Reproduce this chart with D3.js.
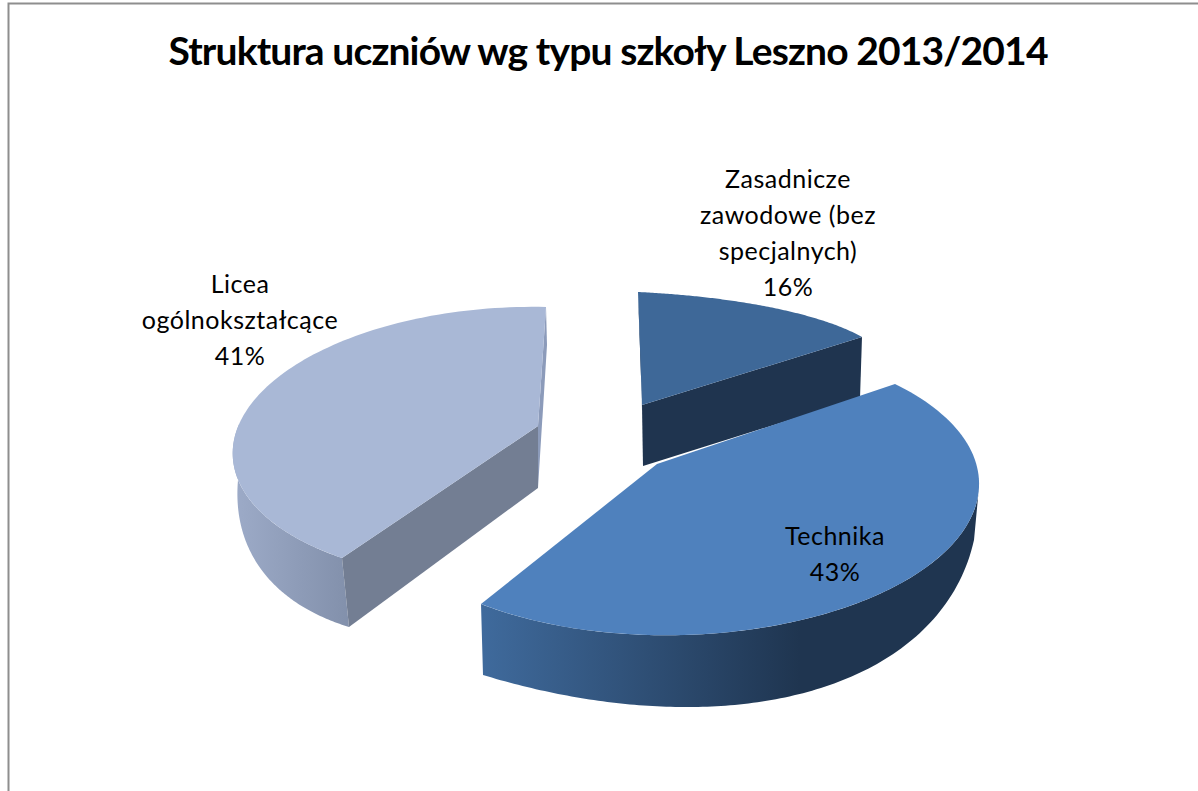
<!DOCTYPE html>
<html lang="pl">
<head>
<meta charset="utf-8">
<script src="https://cdn.jsdelivr.net/npm/d3@7/dist/d3.min.js"></script>
<style>
html,body{margin:0;padding:0;background:#fff;overflow:hidden}
text{font-family:Lato,"Noto Sans",sans-serif;fill:#000}
</style>
</head>
<body>
<svg id="chart" width="1198" height="791"></svg>
<script>
// ---- data ----
const categories = ["Zasadnicze zawodowe (bez specjalnych)", "Technika", "Licea ogólnokształcące"];
const percents = [16, 43, 41];
const titleText = "Struktura uczniów wg typu szkoły Leszno 2013/2014";
const labelLines = [
  ["Zasadnicze", "zawodowe (bez", "specjalnych)"],
  ["Technika"],
  ["Licea", "ogólnokształcące"]
];

// ---- layout: how each exploded slice's disc lies on the page (a perspective plane).
// "at" is a fraction of the slice's own sweep; the sweep itself comes from d3.pie.
const slicePlanes = [
  { top: [[0,638,292],[.243,693,296],[.694,800,314],[1,862,337]],
    bottom: [[0,641,355],[.243,695,358],[.694,800,376],[1,860,398]],
    apex: [642,405], apexLow: [643,466], wall: null, cutStart: true, cutEnd: true,
    topFill: "#3e6898", cutFill: "#1f344f", startCutFill: "#1f344f" },
  { top: [[0,895,384],[.242,979,487],[.726,683,635],[1,481,604]],
    bottom: [[.242,974,540],[.403,903,647],[.726,677,707],[1,483,675]],
    apex: [657,464], apexLow: [657,530], wall: [.242,1], cutStart: false, cutEnd: false,
    topFill: "#4f81bd", wallGradient: [[483,"#3f6a9c"],[800,"#1f3550"],[979,"#1f3550"]] },
  { top: [[0,342,558],[.424,233,447],[.763,353,337],[1,546,307]],
    bottom: [[0,349,627],[.153,280,590],[.336,243,533],[.49,238,480]],
    bottomEnd: [547,345],
    apex: [538,426], apexLow: [538,488], wall: [0,.49], cutStart: true, cutEnd: true,
    topFill: "#a9b8d6", cutFill: "#737e93", startCutFill: "#8c9bba",
    wallGradient: [[233,"#9dabc8"],[349,"#8290ab"]] }
];
const labelAnchors = [[788,188],[835,545],[240,293]];
const lineHeight = 36;

// ---- helpers ----
function solve(A, b) {
  const n = b.length, M = A.map((r, i) => [...r, b[i]]);
  for (let c = 0; c < n; c++) {
    let p = c;
    for (let r = c + 1; r < n; r++) if (Math.abs(M[r][c]) > Math.abs(M[p][c])) p = r;
    [M[c], M[p]] = [M[p], M[c]];
    for (let r = 0; r < n; r++) {
      if (r === c) continue;
      const f = M[r][c] / M[c][c];
      for (let k = c; k <= n; k++) M[r][k] -= f * M[c][k];
    }
  }
  return M.map((r, i) => r[n] / r[i]);
}
function fitPlane(controls, angleAt) {
  const A = [], b = [];
  controls.forEach(([at, x, y]) => {
    const a = angleAt(at), X = Math.sin(a), Y = Math.cos(a);
    A.push([X, Y, 1, 0, 0, 0, -x * X, -x * Y]); b.push(x);
    A.push([0, 0, 0, X, Y, 1, -y * X, -y * Y]); b.push(y);
  });
  const h = solve(A, b);
  return at => {
    const a = angleAt(at), X = Math.sin(a), Y = Math.cos(a);
    const w = h[6] * X + h[7] * Y + 1;
    return [(h[0] * X + h[1] * Y + h[2]) / w, (h[3] * X + h[4] * Y + h[5]) / w];
  };
}

// ---- drawing ----
const svg = d3.select("#chart");
const defs = svg.append("defs");
const line = d3.line();

// chart frame (open at right and bottom, as cropped)
svg.append("path")
  .attr("d", line([[8.5, 791], [8.5, 3.5], [1198, 3.5]]))
  .attr("fill", "none").attr("stroke", "#8e8e8e").attr("stroke-width", 2);

svg.append("text").attr("class", "title")
  .attr("x", 608.5).attr("y", 65).attr("text-anchor", "middle")
  .attr("font-size", 39).attr("font-weight", 700)
  .attr("textLength", 880).attr("lengthAdjust", "spacing")
  .text(titleText);

const arcs = d3.pie().sort(null).startAngle(0).endAngle(2 * Math.PI)(percents);
const drawOrder = [2, 0, 1];
const samples = d3.range(0, 1.0001, 1 / 120);

drawOrder.forEach(i => {
  const arc = arcs[i], pl = slicePlanes[i];
  const angleAt = d3.scaleLinear().domain([0, 1]).range([arc.startAngle, arc.endAngle]);
  const top = fitPlane(pl.top, angleAt), low = fitPlane(pl.bottom, angleAt);
  const g = svg.append("g").attr("class", "slice").attr("data-name", categories[i]);
  const lowStart = low(0), lowEnd = pl.bottomEnd || low(1);

  if (pl.wall) {
    const span = d3.scaleLinear().domain([0, 1]).range(pl.wall);
    const ts = samples.map(span);
    const gid = "wall" + i;
    const x = d3.extent(pl.wallGradient, d => d[0]);
    const grad = defs.append("linearGradient").attr("id", gid)
      .attr("gradientUnits", "userSpaceOnUse")
      .attr("x1", x[0]).attr("x2", x[1]).attr("y1", 0).attr("y2", 0);
    const off = d3.scaleLinear().domain(x).range([0, 1]);
    pl.wallGradient.forEach(([p, c]) => grad.append("stop").attr("offset", off(p)).attr("stop-color", c));
    g.append("path")
      .attr("d", line([...ts.map(top), ...ts.slice().reverse().map(low)]) + "Z")
      .attr("fill", `url(#${gid})`);
  }
  if (pl.cutEnd) {
    g.append("path").attr("d", line([top(1), pl.apex, pl.apexLow, lowEnd]) + "Z")
      .attr("fill", i === 0 ? pl.cutFill : pl.startCutFill);
  }
  if (pl.cutStart) {
    g.append("path").attr("d", line([top(0), pl.apex, pl.apexLow, lowStart]) + "Z")
      .attr("fill", i === 0 ? pl.startCutFill : pl.cutFill);
  }
  g.append("path")
    .attr("d", line([pl.apex, ...samples.map(top)]) + "Z")
    .attr("fill", pl.topFill);
});

const pct = d3.format(".0%");
arcs.forEach((arc, i) => {
  const lines = [...labelLines[i], pct(percents[i] / d3.sum(percents))];
  const [x, y] = labelAnchors[i];
  const t = svg.append("text").attr("class", "label")
    .attr("text-anchor", "middle").attr("font-size", 25).attr("letter-spacing", 0.5);
  lines.forEach((s, k) => t.append("tspan").attr("x", x).attr("y", y + k * lineHeight).text(s));
});
</script>
</body>
</html>
